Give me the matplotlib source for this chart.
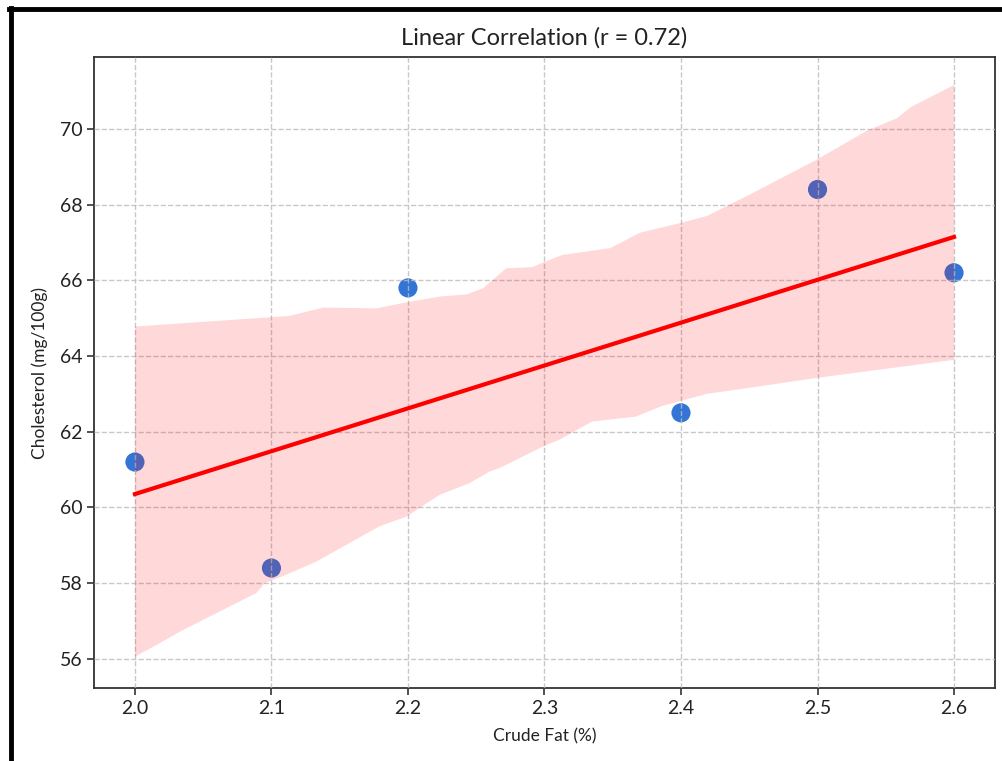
import numpy as np
import matplotlib
matplotlib.use("Agg")
import matplotlib.pyplot as plt
from matplotlib.lines import Line2D

plt.rcParams['font.family'] = ['Lato', 'DejaVu Sans']

# measured data
crude_fat = [2.0, 2.1, 2.2, 2.4, 2.5, 2.6]
cholesterol = [61.2, 58.4, 65.8, 62.5, 68.4, 66.2]

# confidence band edges
band_upper_x = [2.0, 2.113, 2.138, 2.177, 2.196, 2.223, 2.243, 2.255, 2.272, 2.291,
                2.301, 2.313, 2.348, 2.370, 2.399, 2.419, 2.450, 2.499, 2.536,
                2.558, 2.569, 2.600]
band_upper_y = [64.78, 65.06, 65.28, 65.26, 65.40, 65.57, 65.63, 65.79, 66.32, 66.35,
                66.50, 66.67, 66.85, 67.26, 67.51, 67.70, 68.26, 69.18, 69.95,
                70.28, 70.59, 71.16]
band_lower_x = [2.0, 2.016, 2.033, 2.089, 2.095, 2.108, 2.133, 2.179, 2.199, 2.223,
                2.245, 2.260, 2.267, 2.299, 2.311, 2.335, 2.367, 2.386, 2.419,
                2.448, 2.499, 2.600]
band_lower_y = [56.06, 56.37, 56.72, 57.74, 58.00, 58.18, 58.57, 59.50, 59.76, 60.33,
                60.64, 60.95, 61.04, 61.61, 61.79, 62.27, 62.40, 62.68, 63.00,
                63.15, 63.42, 63.90]

x = np.array(crude_fat)
y = np.array(cholesterol)
slope, intercept = np.polyfit(x, y, 1)
r = np.corrcoef(x, y)[0, 1]

fig = plt.figure(figsize=(10.03, 7.61), dpi=100)
ax = fig.add_axes([0.0937, 0.0959, 0.8983, 0.8292])

ax.scatter(x, y, s=190, color='#0052cc', alpha=0.8, edgecolors='none', zorder=2)

xs = np.array([x.min(), x.max()])
ax.plot(xs, slope * xs + intercept, color='red', lw=3, zorder=3)

poly_x = band_upper_x + band_lower_x[::-1]
poly_y = band_upper_y + band_lower_y[::-1]
ax.fill(poly_x, poly_y, color='red', alpha=0.15, lw=0, zorder=4)

ax.set_xlim(1.97, 2.63)
ax.set_ylim(55.23, 71.9)
ax.set_xticks([2.0, 2.1, 2.2, 2.3, 2.4, 2.5, 2.6])
ax.set_yticks([56, 58, 60, 62, 64, 66, 68, 70])

ax.grid(True, linestyle='--', color='#bbbbbb', lw=1, alpha=0.8, zorder=1)
ax.set_axisbelow(False)
for sp in ax.spines.values():
    sp.set_color('#333333')
    sp.set_linewidth(1.3)

ax.tick_params(labelsize=14, length=5, width=1.2, color='#333333', labelcolor='#222222')
ax.set_title(f"Linear Correlation (r = {r:.2f})", fontsize=17, color='#222222', pad=9)
ax.set_xlabel("Crude Fat (%)", fontsize=12.5, color='#222222', labelpad=8)
ax.set_ylabel("Cholesterol (mg/100g)", fontsize=12.5, color='#222222', labelpad=8)

# black frame from the screenshot
fig.add_artist(Line2D([0.0105, 0.0105], [0, 0.989], color='black', lw=3.5,
                      transform=fig.transFigure))
fig.add_artist(Line2D([0.0088, 1.0], [0.988, 0.988], color='black', lw=3.5,
                      transform=fig.transFigure))

fig.savefig("out.png", dpi=100)
